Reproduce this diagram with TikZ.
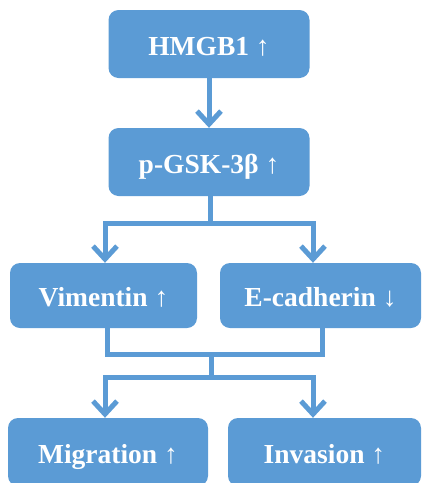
\documentclass[tikz,border=0pt]{standalone}
\usepackage{fontspec}
\setmainfont{Liberation Serif}
\usetikzlibrary{arrows.meta}
\definecolor{boxblue}{RGB}{91,155,213}

\begin{document}
\begin{tikzpicture}[x=1pt,y=-1pt,
  block/.style={rectangle,rounded corners=10pt,fill=boxblue,text=white,
    font=\fontsize{27.5}{30}\selectfont\bfseries,inner sep=0pt,
    text height=24pt,text depth=2pt},
  flow/.style={draw=boxblue,line width=5pt,line join=miter},
  tip/.style={-{Straight Barb[length=13pt,width=24pt]}}]
\useasboundingbox (0,0) rectangle (422,483);
\coordinate (HM) at (209,44);
\coordinate (GS) at (209,162);
\coordinate (VI) at (103.5,295.5);
\coordinate (EC) at (320.5,295.5);
\coordinate (MI) at (108,452);
\coordinate (IN) at (324.5,452);
\node[block,minimum width=201pt,minimum height=68pt] (hmgb) at (HM) {HMGB1 ↑};
\node[block,minimum width=201pt,minimum height=68pt] (gsk) at (GS) {p-GSK-3β ↑};
\node[block,minimum width=187pt,minimum height=65pt] (vim) at (VI) {Vimentin ↑};
\node[block,minimum width=201pt,minimum height=65pt] (ecad) at (EC) {E-cadherin ↓};
\node[block,minimum width=200pt,minimum height=68pt] (mig) at (MI) {Migration ↑};
\node[block,minimum width=193pt,minimum height=68pt] (inv) at (IN) {Invasion ↑};
\coordinate (split1) at (210,223);
\coordinate (lt1) at (105,223);
\coordinate (rt1) at (313,223);
\coordinate (lb) at (107,354);
\coordinate (rb) at (322,354);
\coordinate (merge) at (211,354);
\coordinate (split2) at (211,377);
\coordinate (lt2) at (105,377);
\coordinate (rt2) at (313,377);
\draw[flow,tip] (hmgb.south) -- (gsk.north);
\draw[flow] (gsk.south -| split1) -- (split1);
\draw[flow,tip] (split1) -- (lt1) -- (vim.north -| lt1);
\draw[flow,tip] (split1) -- (rt1) -- (ecad.north -| rt1);
\draw[flow] (vim.south -| lb) -- (lb) -- (rb) -- (ecad.south -| rb);
\draw[flow] (merge) -- (split2);
\draw[flow,tip] (split2) -- (lt2) -- (mig.north -| lt2);
\draw[flow,tip] (split2) -- (rt2) -- (inv.north -| rt2);
\end{tikzpicture}
\end{document}
